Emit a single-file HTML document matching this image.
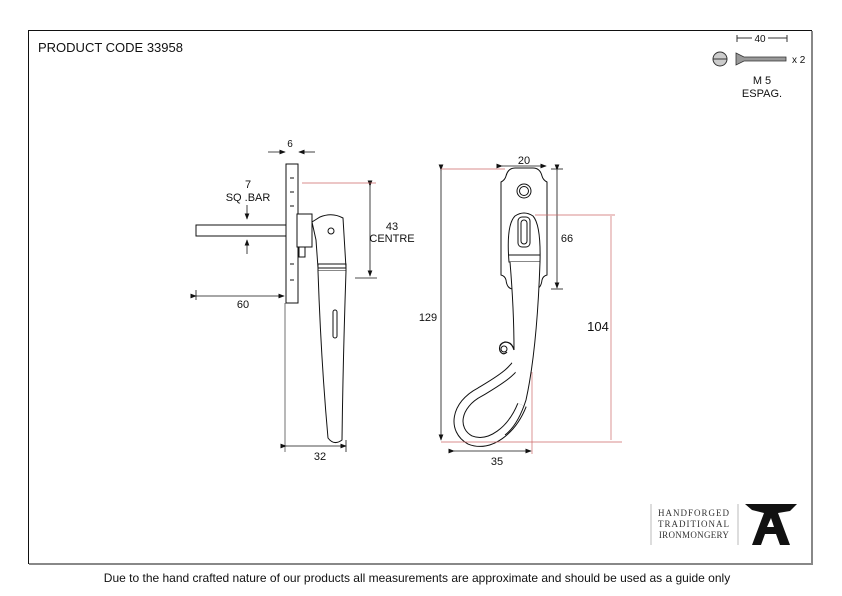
<!DOCTYPE html>
<html><head><meta charset="utf-8"><style>
body{margin:0;background:#fff;width:842px;height:596px;overflow:hidden}
svg{display:block}
text{font-family:"Liberation Sans",sans-serif;fill:#111}
text.s{font-family:"Liberation Serif",serif;fill:#333}
</style></head><body>
<svg width="842" height="596" viewBox="0 0 842 596">
<defs><marker id="a" markerWidth="8" markerHeight="6" refX="7" refY="3" orient="auto"><path d="M0,0 L8,3 L0,6 z" fill="#111"/></marker></defs>
<rect x="28.5" y="30.5" width="783" height="533" fill="none" stroke="#111" stroke-width="1"/>
<line x1="812" y1="31" x2="812" y2="564" stroke="#888" stroke-width="2"/>
<line x1="29" y1="564" x2="813" y2="564" stroke="#888" stroke-width="2"/>
<text x="38" y="52" font-size="13">PRODUCT CODE 33958</text>
<text x="417" y="582" font-size="12" text-anchor="middle">Due to the hand crafted nature of our products all measurements are approximate and should be used as a guide only</text>

<!-- screw -->
<circle cx="720" cy="59" r="7" fill="#ccc" stroke="#333"/>
<line x1="713" y1="59" x2="727" y2="59" stroke="#333"/>
<path d="M736,53 L744,57 L786,57 L786,61 L744,61 L736,65 Z" fill="#999" stroke="#333" stroke-width="0.8"/>
<line x1="737" y1="38" x2="787" y2="38" stroke="#333"/><line x1="737" y1="35" x2="737" y2="42" stroke="#333"/><line x1="787" y1="35" x2="787" y2="42" stroke="#333"/>
<rect x="752" y="33" width="16" height="10" fill="#fff"/>
<text x="760" y="42" font-size="10" text-anchor="middle">40</text>
<text x="792" y="63" font-size="10">x 2</text>
<text x="762" y="84" font-size="11" text-anchor="middle">M 5</text>
<text x="762" y="97" font-size="11" text-anchor="middle">ESPAG.</text>

<!-- logo -->
<line x1="651" y1="504" x2="651" y2="545" stroke="#bbb"/>
<line x1="738" y1="504" x2="738" y2="545" stroke="#bbb"/>
<text class="s" x="694" y="516" font-size="9" text-anchor="middle" letter-spacing="1">HANDFORGED</text>
<text class="s" x="694" y="527" font-size="9" text-anchor="middle" letter-spacing="1">TRADITIONAL</text>
<text class="s" x="694" y="538" font-size="9" text-anchor="middle" letter-spacing="0.3">IRONMONGERY</text>
<path d="M745,504 L797,504 L790,511 L778,513 L790,545 L780,545 L776,534 L765,534 L761,545 L752,545 L764,513 L752,510 Z M767,527 L774,527 L771,518 Z" fill="#111" fill-rule="evenodd"/>

<g stroke="#111" fill="none" stroke-width="1">
<!-- left drawing -->
<rect x="196" y="225" width="93" height="11" fill="#fff"/>
<rect x="286" y="164" width="12" height="139" fill="#fff"/>
<line x1="290" y1="178" x2="294" y2="178"/><line x1="290" y1="192" x2="294" y2="192"/><line x1="290" y1="206" x2="294" y2="206"/><line x1="290" y1="264" x2="294" y2="264"/><line x1="290" y1="280" x2="294" y2="280"/>
<rect x="297" y="214" width="15" height="33" fill="#fff"/>
<rect x="299" y="247" width="6" height="10"/>
<path d="M312,222 L320,217 Q332,212 343,218 L346,268 L318,268 L316,240 Z" fill="#fff"/>
<circle cx="331" cy="231" r="3"/>
<path d="M318,264 L346,264 L346,271 L318,271 Z"/>
<path d="M318,271 Q321,360 328,438 Q334,446 342,440 Q343,360 346,271" fill="#fff"/>
<rect x="333" y="310" width="4" height="28" rx="2"/>
<line x1="285" y1="303" x2="285" y2="452" stroke-width="0.6"/>
</g>
<g stroke="#111" stroke-width="0.8" fill="none">
<line x1="268" y1="152" x2="285" y2="152" marker-end="url(#a)"/>
<line x1="315" y1="152" x2="299" y2="152" marker-end="url(#a)"/>
<line x1="247" y1="205" x2="247" y2="219" marker-end="url(#a)"/>
<line x1="247" y1="254" x2="247" y2="240" marker-end="url(#a)"/>
<line x1="196" y1="296" x2="284" y2="296" marker-start="url(#a)" marker-end="url(#a)"/>
<line x1="196" y1="290" x2="196" y2="300"/>
<line x1="370" y1="186" x2="370" y2="276" marker-start="url(#a)" marker-end="url(#a)"/>
<line x1="355" y1="278" x2="377" y2="278"/>
<line x1="286" y1="446" x2="346" y2="446" marker-start="url(#a)" marker-end="url(#a)"/>
<line x1="346" y1="440" x2="346" y2="452"/>
</g>
<line x1="302" y1="183" x2="376" y2="183" stroke="#c66" stroke-width="0.7"/>
<text x="290" y="147" font-size="10" text-anchor="middle">6</text>
<text x="248" y="188" font-size="11" text-anchor="middle">7</text>
<text x="248" y="201" font-size="11" text-anchor="middle">SQ .BAR</text>
<text x="243" y="308" font-size="11" text-anchor="middle">60</text>
<text x="392" y="230" font-size="11" text-anchor="middle">43</text>
<text x="392" y="242" font-size="11" text-anchor="middle">CENTRE</text>
<text x="320" y="460" font-size="11" text-anchor="middle">32</text>

<!-- right drawing -->
<g stroke="#111" fill="none" stroke-width="1">
<path d="M501,182 Q505,180 506,176 Q508,168 515,168 L533,168 Q540,168 542,176 Q543,180 547,182 L547,275 Q543,276 542,280 Q541,289 535,289 L513,289 Q507,289 506,280 Q505,276 501,275 Z" fill="#fff"/>
<circle cx="524" cy="191" r="7"/><circle cx="524" cy="191" r="4.5"/>
<path d="M509,262 Q506,225 515,216 Q524,210 533,216 Q541,225 540,262 Z" fill="#fff"/>
<rect x="518" y="217" width="12" height="30" rx="4"/><rect x="521" y="220" width="6" height="24" rx="3"/>
<line x1="509" y1="255" x2="540" y2="255"/>
<path d="M524,350 C518,370 500,380 480,392 C455,405 452,430 470,440 C490,448 512,430 522,405" stroke-width="10"/>
<path d="M524,350 C518,370 500,380 480,392 C455,405 452,430 470,440 C490,448 512,430 522,405" stroke="#fff" stroke-width="8"/>
<path d="M510,262 Q514,310 514,352 L511,360 L526,400 Q535,360 540,262 Z" fill="#fff" stroke="none"/>
<path d="M510,262 Q514,310 514,350 M540,262 Q537,350 526,400 Q518,425 505,435"/>
<path d="M514,350 Q512,342 505,342 Q498,344 500,351 Q503,356 507,352" stroke-width="1.2"/>
<circle cx="504" cy="349" r="3"/>
</g>
<g stroke="#111" stroke-width="0.8" fill="none">
<line x1="502" y1="166" x2="546" y2="166" marker-start="url(#a)" marker-end="url(#a)"/>
<line x1="441" y1="170" x2="441" y2="440" marker-start="url(#a)" marker-end="url(#a)"/>
<line x1="557" y1="170" x2="557" y2="288" marker-start="url(#a)" marker-end="url(#a)"/>
<line x1="551" y1="169" x2="563" y2="169"/><line x1="551" y1="289" x2="563" y2="289"/>
<line x1="454" y1="451" x2="531" y2="451" marker-start="url(#a)" marker-end="url(#a)"/>
</g>
<g stroke="#c66" stroke-width="0.7" fill="none">
<line x1="441" y1="169" x2="505" y2="169"/>
<line x1="535" y1="215" x2="615" y2="215"/>
<line x1="441" y1="442" x2="622" y2="442"/>
<line x1="532" y1="372" x2="532" y2="454"/>
</g>
<line x1="611" y1="216" x2="611" y2="440" stroke="#c66" stroke-width="0.7"/>
<text x="524" y="164" font-size="11" text-anchor="middle">20</text>
<text x="428" y="321" font-size="11" text-anchor="middle">129</text>
<text x="567" y="242" font-size="11" text-anchor="middle">66</text>
<text x="598" y="331" font-size="13" text-anchor="middle">104</text>
<text x="497" y="465" font-size="11" text-anchor="middle">35</text>
</svg>
</body></html>
